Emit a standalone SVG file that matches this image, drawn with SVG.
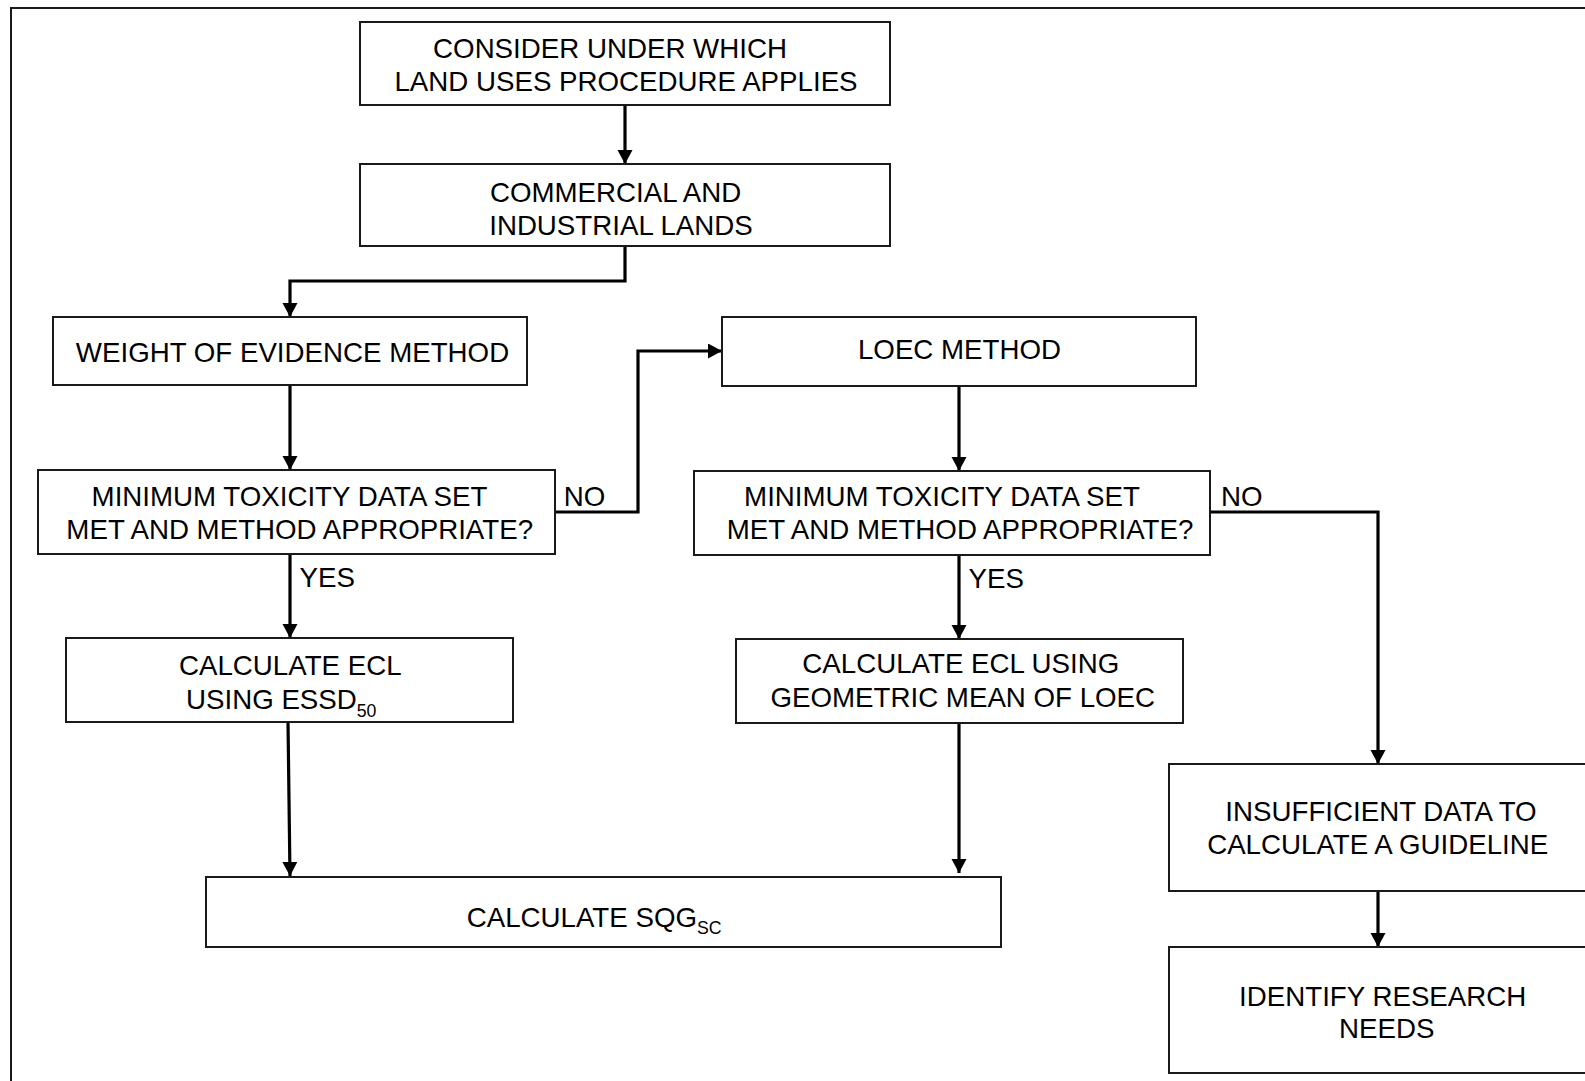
<svg xmlns="http://www.w3.org/2000/svg" width="1585" height="1081" viewBox="0 0 1585 1081">
<defs>
<marker id="ah" markerUnits="userSpaceOnUse" markerWidth="16" markerHeight="16" refX="14" refY="7.5" orient="auto">
<path d="M0,0 L14,7.5 L0,15 Z" fill="#000"/>
</marker>
<style>
.box{fill:#fff;stroke:#1a1a1a;stroke-width:2}
.t{font-family:"Liberation Sans",Arial,sans-serif;font-size:27.7px;fill:#000;text-anchor:middle}
.l{font-family:"Liberation Sans",Arial,sans-serif;font-size:27.7px;fill:#000}
.sub{font-size:17.7px}
.c{fill:none;stroke:#000;stroke-width:3.2}
</style>
</defs>
<rect x="0" y="0" width="1585" height="1081" fill="#fff"/>
<rect x="11" y="8" width="1600" height="1100" fill="none" stroke="#1a1a1a" stroke-width="2"/>
<g id="connectors">
<path class="c" d="M625,105 V164" marker-end="url(#ah)"/>
<path class="c" d="M625,246 V281 H290 V317" marker-end="url(#ah)"/>
<path class="c" d="M290,385 V470" marker-end="url(#ah)"/>
<path class="c" d="M555,512 H638 V351 H722" marker-end="url(#ah)"/>
<path class="c" d="M290,554 V638" marker-end="url(#ah)"/>
<path class="c" d="M959,386 V471" marker-end="url(#ah)"/>
<path class="c" d="M959,555 V639" marker-end="url(#ah)"/>
<path class="c" d="M1210,512 H1378 V764" marker-end="url(#ah)"/>
<path class="c" d="M288,722 L290,876" marker-end="url(#ah)"/>
<path class="c" d="M959,723 V873" marker-end="url(#ah)"/>
<path class="c" d="M1378,891 V947" marker-end="url(#ah)"/>
<text class="l" x="563.8" y="506">NO</text>
<text class="l" x="299.5" y="586.7">YES</text>
<text class="l" x="1221" y="505.7">NO</text>
<text class="l" x="968.6" y="588">YES</text>
</g>
<g id="n1"><rect class="box" x="360" y="22" width="530" height="83"/>
<text class="t" x="610" y="58">CONSIDER UNDER WHICH</text>
<text class="t" x="626" y="91">LAND USES PROCEDURE APPLIES</text></g>
<g id="n2"><rect class="box" x="360" y="164" width="530" height="82"/>
<text class="t" x="615.6" y="201.7">COMMERCIAL AND</text>
<text class="t" x="621" y="235">INDUSTRIAL LANDS</text></g>
<g id="n3"><rect class="box" x="53" y="317" width="474" height="68"/>
<text class="t" x="292.5" y="361.7">WEIGHT OF EVIDENCE METHOD</text></g>
<g id="n4"><rect class="box" x="722" y="317" width="474" height="69"/>
<text class="t" x="959.5" y="359">LOEC METHOD</text></g>
<g id="n5"><rect class="box" x="38" y="470" width="517" height="84"/>
<text class="t" x="289.5" y="506">MINIMUM TOXICITY DATA SET</text>
<text class="t" x="299.7" y="539">MET AND METHOD APPROPRIATE?</text></g>
<g id="n6"><rect class="box" x="694" y="471" width="516" height="84"/>
<text class="t" x="942" y="505.7">MINIMUM TOXICITY DATA SET</text>
<text class="t" x="960" y="539.3">MET AND METHOD APPROPRIATE?</text></g>
<g id="n7"><rect class="box" x="66" y="638" width="447" height="84"/>
<text class="t" x="290.3" y="675">CALCULATE ECL</text>
<text class="l" x="186" y="708.5">USING ESSD<tspan class="sub" dy="8.5">50</tspan></text></g>
<g id="n8"><rect class="box" x="736" y="639" width="447" height="84"/>
<text class="t" x="960.8" y="672.7">CALCULATE ECL USING</text>
<text class="t" x="962.8" y="706.7">GEOMETRIC MEAN OF LOEC</text></g>
<g id="n9"><rect class="box" x="206" y="877" width="795" height="70"/>
<text class="l" x="466.7" y="927">CALCULATE SQG<tspan class="sub" dy="6.5">SC</tspan></text></g>
<g id="n10"><rect class="box" x="1169" y="764" width="440" height="127"/>
<text class="t" x="1381" y="821">INSUFFICIENT DATA TO</text>
<text class="t" x="1377.7" y="854.3">CALCULATE A GUIDELINE</text></g>
<g id="n11"><rect class="box" x="1169" y="947" width="440" height="126"/>
<text class="t" x="1382.7" y="1006">IDENTIFY RESEARCH</text>
<text class="t" x="1386.8" y="1038.3">NEEDS</text></g>
</svg>
